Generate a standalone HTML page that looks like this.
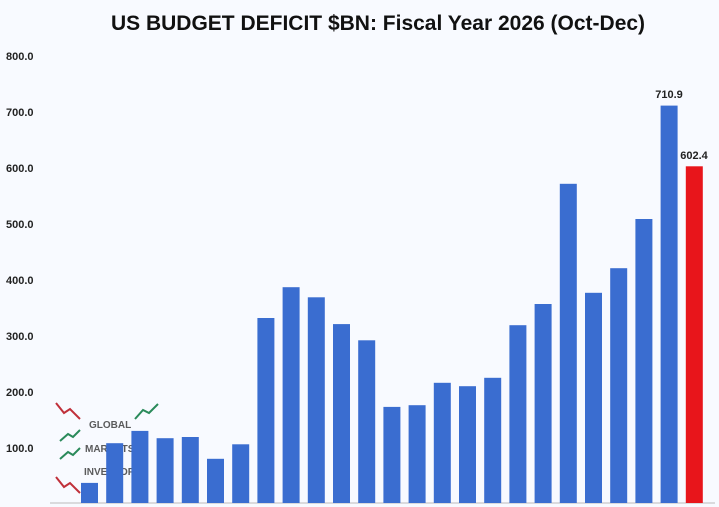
<!DOCTYPE html><html><head><style>body{margin:0;background:#f8faff}svg{display:block}</style></head><body>
<svg width="719" height="507" xmlns="http://www.w3.org/2000/svg" font-family="Liberation Sans, sans-serif">
<rect width="719" height="507" fill="#f8faff"/>
<text x="378" y="30" text-anchor="middle" font-size="21" font-weight="bold" fill="#111">US BUDGET DEFICIT $BN: Fiscal Year 2026 (Oct-Dec)</text>
<g font-size="11" font-weight="bold" fill="#222">
<text x="6" y="60">800.0</text><text x="6" y="116">700.0</text><text x="6" y="172">600.0</text>
<text x="6" y="228">500.0</text><text x="6" y="284">400.0</text><text x="6" y="340">300.0</text>
<text x="6" y="396">200.0</text><text x="6" y="452">100.0</text></g>
<line x1="50" y1="503" x2="715" y2="503" stroke="#bbb"/>
<g fill="none" stroke-width="2"><polyline points="56,403 64,413 70,409 80,419" stroke="#c0303a"/><polyline points="135,419 143,410 149,413 158,404" stroke="#2a8a5a"/><polyline points="60,441 68,434 73,437 80,430" stroke="#2a8a5a"/><polyline points="60,459 68,452 73,455 80,448" stroke="#2a8a5a"/><polyline points="56,477 64,487 70,483 80,493" stroke="#c0303a"/></g>
<g font-size="10" font-weight="bold" fill="#333" opacity="0.8"><text x="89" y="428">GLOBAL</text><text x="85" y="452">MARKETS</text><text x="84" y="475">INVESTORS</text></g>
<g fill="#3a6dd0">
<rect x="81" y="482.9" width="17" height="20.1"/>
<rect x="106.2" y="443.2" width="17" height="59.8"/>
<rect x="131.4" y="430.9" width="17" height="72.1"/>
<rect x="156.6" y="438.2" width="17" height="64.8"/>
<rect x="181.8" y="437" width="17" height="66"/>
<rect x="207" y="458.8" width="17" height="44.2"/>
<rect x="232.2" y="444.3" width="17" height="58.7"/>
<rect x="257.4" y="318" width="17" height="185"/>
<rect x="282.6" y="287.2" width="17" height="215.8"/>
<rect x="307.8" y="297.3" width="17" height="205.7"/>
<rect x="333" y="324.1" width="17" height="178.9"/>
<rect x="358.2" y="340.3" width="17" height="162.7"/>
<rect x="383.4" y="406.9" width="17" height="96.1"/>
<rect x="408.6" y="405.2" width="17" height="97.8"/>
<rect x="433.8" y="382.8" width="17" height="120.2"/>
<rect x="459" y="386.2" width="17" height="116.8"/>
<rect x="484.2" y="377.8" width="17" height="125.2"/>
<rect x="509.4" y="325.2" width="17" height="177.8"/>
<rect x="534.6" y="304" width="17" height="199"/>
<rect x="559.8" y="183.8" width="17" height="319.2"/>
<rect x="585" y="292.8" width="17" height="210.2"/>
<rect x="610.2" y="268.2" width="17" height="234.8"/>
<rect x="635.4" y="219" width="17" height="284"/>
<rect x="660.6" y="105.6" width="17" height="397.4"/>
</g>
<rect x="685.8" y="166.3" width="17" height="336.7" fill="#e8151b"/>
<text x="669" y="98" text-anchor="middle" font-size="11" font-weight="bold" fill="#222">710.9</text>
<text x="694" y="159" text-anchor="middle" font-size="11" font-weight="bold" fill="#222">602.4</text>
</svg></body></html>
